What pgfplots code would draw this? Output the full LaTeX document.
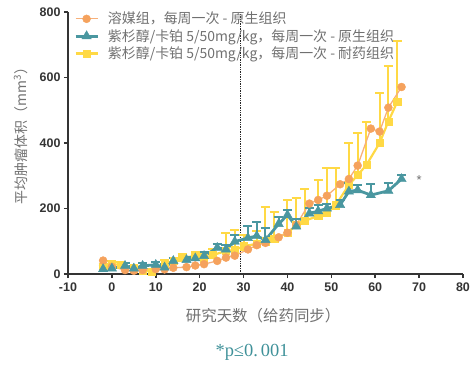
\documentclass[border=0pt]{standalone}
\usepackage{pgfplots}
\pgfplotsset{compat=1.18}
\usepackage{pgfplotstable}
\usepackage{fontspec}
\setmainfont{Liberation Sans}
\newfontfamily\cjk{Noto Sans CJK SC}
\newfontfamily\serifp{Liberation Serif}

\definecolor{vehC}{HTML}{F5A25D}
\definecolor{vehL}{HTML}{F7B07A}
\definecolor{tealC}{HTML}{4A97A0}
\definecolor{yelC}{HTML}{FFD945}
\definecolor{axisgray}{HTML}{343434}
\definecolor{labelgray}{HTML}{707070}
\definecolor{pteal}{HTML}{3F9199}

% day  mean
\pgfplotstableread{
d   v
-2  41
0   22
3   12
5   10
7   12
10  15
12  14
14  19
17  21
19  26
21  30
24  40
26  50
28  56
31  75
33  88
35  95
38  112
40  126
42  150
45  215
47  226
49  239
52  274
54  290
56  331
59  444
61  435
63  508
66  571
}\vehicle

% day  mean  upper error
\pgfplotstableread{
d   v    e
-2  15   8
0   17   8
3   25   8
5   17   8
7   25   8
10  28   8
12  20   10
14  40   10
17  43   10
19  48   10
21  55   12
24  80   12
26  75   15
28  99   20
31  110  38
33  116  42
35  104  35
38  153  20
40  180  15
42  145  22
45  185  18
47  192  18
49  200  15
52  211  15
54  252  25
56  256  16
59  241  33
63  254  24
66  290  12
}\pcnative

\pgfplotstableread{
d   v    e
-2  22   10
0   30   10
2   28   8
5   18   6
7   10   6
9   8    6
12  30   12
14  40   10
16  50   12
19  55   12
21  48   15
23  58   18
26  70   55
28  73   60
30  85   35
33  92   40
35  100  105
37  108  80
40  125  101
42  150  83
44  163  97
47  177  110
49  188  135
51  210  113
54  272  127
56  302  128
58  333  132
61  400  152
63  466  169
65  525  187
}\pcresist

\begin{document}
\begin{tikzpicture}
\begin{axis}[
  scale only axis,
  width=395bp, height=262bp,
  xmin=-10, xmax=80, ymin=0, ymax=800,
  axis x line*=bottom, axis y line*=left,
  xtick={-10,0,...,80}, ytick={0,200,...,800},
  tick align=outside,
  major tick length=4bp,
  tick style={line width=1.6bp, color=axisgray},
  axis line style={line width=2bp, color=axisgray},
  /pgf/number format/assume math mode=true,
  ticklabel style={font=\bfseries\fontsize{12.5}{14}\selectfont, text=axisgray},
  xticklabel style={yshift=-1bp},
  every axis x label/.style={at={(axis description cs:0.494,-0.158)}, anchor=center},
  every axis y label/.style={at={(axis description cs:-0.12,0.54)}, rotate=90, anchor=center},
  xlabel={\cjk\fontsize{15.5}{17}\selectfont 研究天数（给药同步）},
  ylabel={\cjk\fontsize{14}{16}\selectfont 平均肿瘤体积（mm\textsuperscript{3}）},
  label style={text=labelgray},
  clip=false,
  legend cell align=left,
  legend style={at={(axis description cs:0.0,1.0)}, anchor=north west,
    xshift=5bp, yshift=3bp,
    draw=none, fill=none, inner sep=1bp, row sep=0bp,
    font=\cjk\fontsize{14}{16}\selectfont, text=labelgray,
    /tikz/every odd column/.append style={column sep=7bp}},
  legend image code/.code={
    \draw[mark repeat=2,mark phase=2,#1] plot coordinates {(0bp,0bp) (11bp,0bp) (22bp,0bp)};
  },
  ebar/.style={error bars/.cd, y dir=plus, y explicit,
    error bar style={line width=2bp, color=#1},
    error mark options={rotate=90, mark size=4.5bp, line width=2bp, color=#1}},
  vehstyle/.style={color=vehL, line width=1.3bp, mark=*, mark size=4bp,
    mark options={fill=vehC, draw=vehC, line width=0.4bp}},
  tealstyle/.style={color=tealC, line width=2.8bp, mark=triangle*, mark size=5.4bp,
    mark options={fill=tealC, draw=tealC, line width=0.4bp}},
  yelstyle/.style={color=yelC, line width=2.2bp, mark=square*, mark size=3.6bp,
    mark options={fill=yelC, draw=yelC, line width=0.4bp}},
]
\coordinate (origin) at (axis description cs:0,0);

% treatment start marker
\addplot[densely dotted, line width=1.4bp, color=black!85, forget plot]
  coordinates {(29.3,0) (29.3,800)};

% drawn back to front: resistant, vehicle, native
\addplot[forget plot, yelstyle, ebar=yelC] table[x=d, y=v, y error=e] {\pcresist};
\addplot[forget plot, vehstyle] table[x=d, y=v] {\vehicle};
\addplot[forget plot, tealstyle, ebar=tealC] table[x=d, y=v, y error=e] {\pcnative};

\addlegendimage{vehstyle}
\addlegendentry{溶媒组，每周一次 - 原生组织}
\addlegendimage{tealstyle}
\addlegendentry{紫杉醇/卡铂 5/50mg/kg，每周一次 - 原生组织}
\addlegendimage{yelstyle}
\addlegendentry{紫杉醇/卡铂 5/50mg/kg，每周一次 - 耐药组织}

\node[text=labelgray, font=\fontsize{13}{13}\selectfont] at (axis cs:70,286) {*};
\node[text=pteal, font=\serifp\fontsize{18.5}{20}\selectfont, anchor=center]
  at (axis description cs:0.466,-0.298) {*p≤0.\hspace{3bp}001};
\end{axis}
\pgfresetboundingbox
\useasboundingbox (origin) ++(-68bp,-93bp) rectangle ++(470bp,367bp);
\end{tikzpicture}
\end{document}
